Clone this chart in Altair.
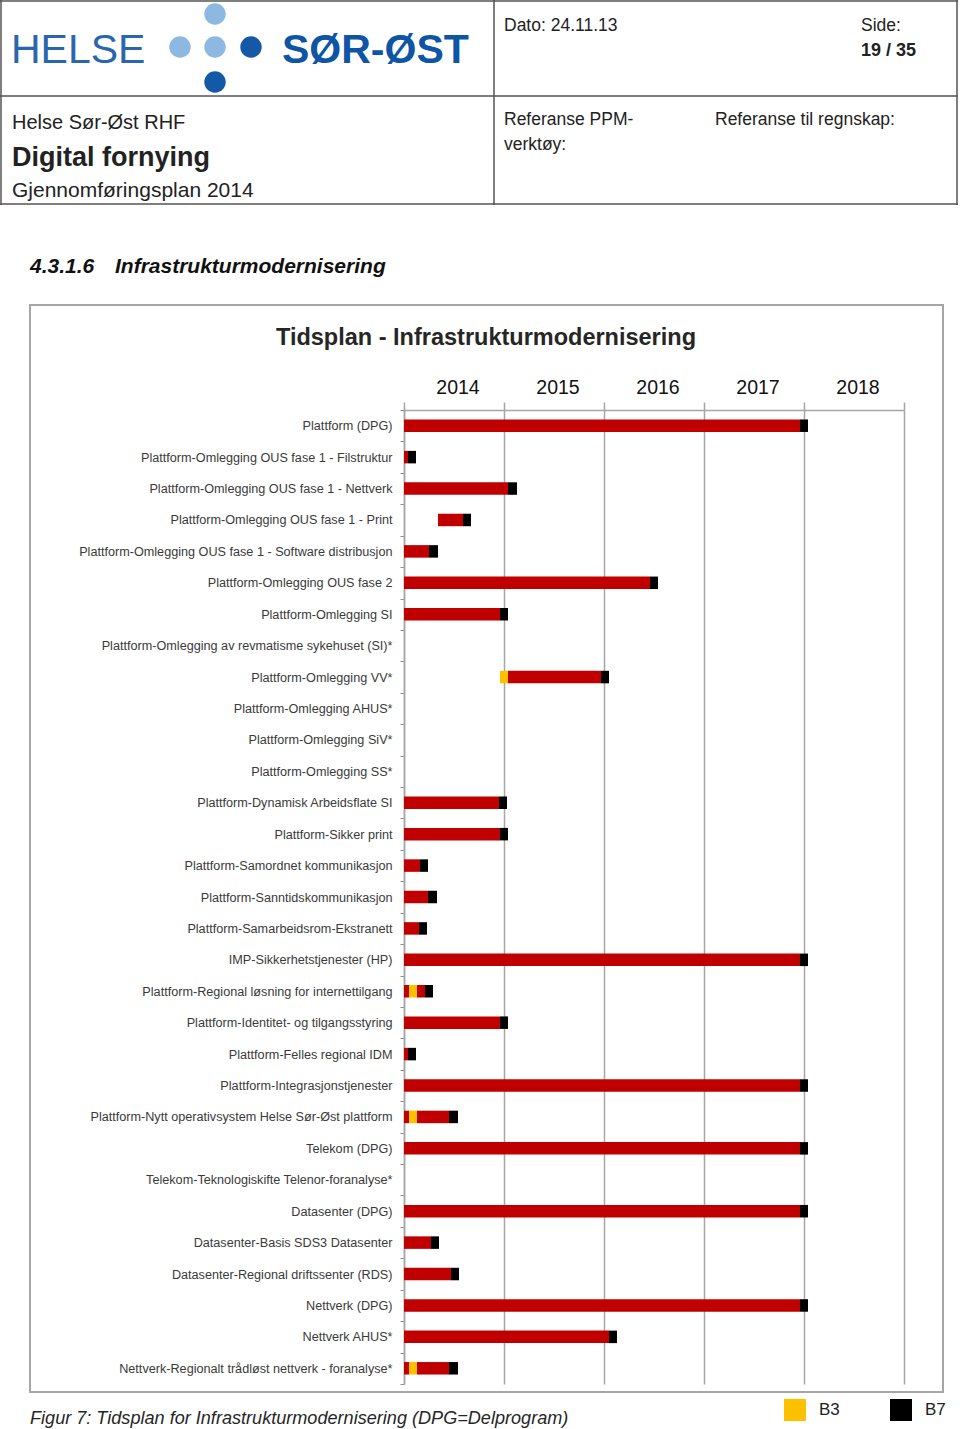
import altair as alt
import pandas as pd

# ---------------- data ----------------
tasks = [
    "Plattform (DPG)",
    "Plattform-Omlegging OUS fase 1 - Filstruktur",
    "Plattform-Omlegging OUS fase 1 - Nettverk",
    "Plattform-Omlegging OUS fase 1 - Print",
    "Plattform-Omlegging OUS fase 1 - Software distribusjon",
    "Plattform-Omlegging OUS fase 2",
    "Plattform-Omlegging SI",
    "Plattform-Omlegging av revmatisme sykehuset (SI)*",
    "Plattform-Omlegging VV*",
    "Plattform-Omlegging AHUS*",
    "Plattform-Omlegging SiV*",
    "Plattform-Omlegging SS*",
    "Plattform-Dynamisk Arbeidsflate SI",
    "Plattform-Sikker print",
    "Plattform-Samordnet kommunikasjon",
    "Plattform-Sanntidskommunikasjon",
    "Plattform-Samarbeidsrom-Ekstranett",
    "IMP-Sikkerhetstjenester (HP)",
    "Plattform-Regional løsning for internettilgang",
    "Plattform-Identitet- og tilgangsstyring",
    "Plattform-Felles regional IDM",
    "Plattform-Integrasjonstjenester",
    "Plattform-Nytt operativsystem Helse Sør-Øst plattform",
    "Telekom (DPG)",
    "Telekom-Teknologiskifte Telenor-foranalyse*",
    "Datasenter (DPG)",
    "Datasenter-Basis SDS3 Datasenter",
    "Datasenter-Regional driftssenter (RDS)",
    "Nettverk (DPG)",
    "Nettverk AHUS*",
    "Nettverk-Regionalt trådløst nettverk - foranalyse*",
]

# segments: row number (1-based), start, end (decimal year), phase
seg_row = [1, 1, 2, 2, 3, 3, 4, 4, 5, 5, 6, 6, 7, 7,
           9, 9, 9,
           13, 13, 14, 14, 15, 15, 16, 16, 17, 17, 18, 18,
           19, 19, 19, 19, 20, 20, 21, 21, 22, 22,
           23, 23, 23, 23, 24, 24, 26, 26, 27, 27, 28, 28,
           29, 29, 30, 30, 31, 31, 31, 31]
seg_start = [2014.00, 2017.96, 2014.00, 2014.04, 2014.00, 2015.04, 2014.34, 2014.59,
             2014.00, 2014.25, 2014.00, 2016.46, 2014.00, 2014.96,
             2014.96, 2015.04, 2015.97,
             2014.00, 2014.95, 2014.00, 2014.96, 2014.00, 2014.16, 2014.00, 2014.24,
             2014.00, 2014.15, 2014.00, 2017.96,
             2014.00, 2014.05, 2014.13, 2014.21, 2014.00, 2014.96, 2014.00, 2014.04,
             2014.00, 2017.96,
             2014.00, 2014.05, 2014.13, 2014.45, 2014.00, 2017.96, 2014.00, 2017.96,
             2014.00, 2014.27, 2014.00, 2014.47,
             2014.00, 2017.96, 2014.00, 2016.05, 2014.00, 2014.05, 2014.13, 2014.45]
seg_end = [2017.96, 2018.04, 2014.04, 2014.12, 2015.04, 2015.13, 2014.59, 2014.67,
           2014.25, 2014.34, 2016.46, 2016.54, 2014.96, 2015.04,
           2015.04, 2015.97, 2016.05,
           2014.95, 2015.03, 2014.96, 2015.04, 2014.16, 2014.24, 2014.24, 2014.33,
           2014.15, 2014.23, 2017.96, 2018.04,
           2014.05, 2014.13, 2014.21, 2014.29, 2014.96, 2015.04, 2014.04, 2014.12,
           2017.96, 2018.04,
           2014.05, 2014.13, 2014.45, 2014.54, 2017.96, 2018.04, 2017.96, 2018.04,
           2014.27, 2014.35, 2014.47, 2014.55,
           2017.96, 2018.04, 2016.05, 2016.13, 2014.05, 2014.13, 2014.45, 2014.54]
seg_phase = ["Plan", "B7", "Plan", "B7", "Plan", "B7", "Plan", "B7",
             "Plan", "B7", "Plan", "B7", "Plan", "B7",
             "B3", "Plan", "B7",
             "Plan", "B7", "Plan", "B7", "Plan", "B7", "Plan", "B7",
             "Plan", "B7", "Plan", "B7",
             "Plan", "B3", "Plan", "B7", "Plan", "B7", "Plan", "B7",
             "Plan", "B7",
             "Plan", "B3", "Plan", "B7", "Plan", "B7", "Plan", "B7",
             "Plan", "B7", "Plan", "B7",
             "Plan", "B7", "Plan", "B7", "Plan", "B3", "Plan", "B7"]

years = [2014, 2015, 2016, 2017, 2018]
year_edges = [2014, 2015, 2016, 2017, 2018, 2019]

phase_domain = ["Plan", "B3", "B7"]
phase_colors = ["#C00000", "#FFC000", "#000000"]

seg_df = pd.DataFrame({
    "task": [tasks[r - 1] for r in seg_row],
    "start": seg_start,
    "end": seg_end,
    "phase": seg_phase,
})
year_df = pd.DataFrame({"year": years})

# ---------------- layout ----------------
X0, Y0 = 404, 410          # plot area origin on the page
PW, PH = 500, 974          # plot area size
PAGE_W, PAGE_H = 960, 1429
FONT = "Liberation Sans"
one = alt.Data(values=[{}])


def txt(s, px, py, size, weight="normal", style="normal", color="#222222",
        align="left", baseline="alphabetic", font=FONT):
    return alt.Chart(one).mark_text(
        text=s, align=align, baseline=baseline, fontSize=size,
        fontWeight=weight, fontStyle=style, color=color, font=font
    ).encode(x=alt.value(px - X0), y=alt.value(py - Y0))


def hline(x1, x2, py, color="#555555", w=1.5):
    return alt.Chart(one).mark_rule(color=color, strokeWidth=w).encode(
        x=alt.value(x1 - X0), x2=alt.value(x2 - X0), y=alt.value(py - Y0))


def vline(px, y1, y2, color="#555555", w=1.5):
    return alt.Chart(one).mark_rule(color=color, strokeWidth=w).encode(
        x=alt.value(px - X0), y=alt.value(y1 - Y0), y2=alt.value(y2 - Y0))


def dot(px, py, color, size=460):
    return alt.Chart(one).mark_circle(color=color, size=size, opacity=1).encode(
        x=alt.value(px - X0), y=alt.value(py - Y0))


deco = [
    # header table
    hline(0, 958, 1), hline(0, 958, 96), hline(0, 958, 204),
    vline(1, 0, 205), vline(957, 0, 205), vline(494, 0, 205),
    # logo
    txt("HELSE", 11, 63, 41, color="#2A66AD"),
    dot(180, 47, "#8DB8E2"), dot(215, 47, "#8DB8E2"), dot(215, 14, "#8DB8E2"),
    dot(251, 47, "#1459A8"), dot(215, 82, "#1459A8"),
    txt("SØR-ØST", 282, 63, 41, weight="bold", color="#0E55A5"),
    txt("Dato: 24.11.13", 504, 31, 17.5),
    txt("Side:", 861, 31, 17.5),
    txt("19 / 35", 861, 56, 18, weight="bold"),
    txt("Helse Sør-Øst RHF", 12, 129, 20),
    txt("Digital fornying", 12, 166, 27, weight="bold"),
    txt("Gjennomføringsplan 2014", 12, 197, 21),
    txt("Referanse PPM-", 504, 125, 17.5),
    txt("verktøy:", 504, 150, 17.5),
    txt("Referanse til regnskap:", 715, 125, 17.5),
    # section heading
    txt("4.3.1.6", 30, 273, 21, weight="bold", style="italic", color="#111111"),
    txt("Infrastrukturmodernisering", 115, 273, 21, weight="bold", style="italic",
        color="#111111"),
    # chart frame
    alt.Chart(one).mark_rect(fillOpacity=0, stroke="#A6A6A6", strokeWidth=2).encode(
        x=alt.value(30 - X0), x2=alt.value(943 - X0),
        y=alt.value(305 - Y0), y2=alt.value(1392 - Y0)),
    # chart title
    txt("Tidsplan - Infrastrukturmodernisering", 486, 345, 23.5, weight="bold",
        align="center", color="#262626"),
    # caption
    txt("Figur 7: Tidsplan for Infrastrukturmodernisering (DPG=Delprogram)",
        30, 1424, 18.1, style="italic", color="#262626"),
]

x_scale = alt.Scale(domain=[2014, 2019], nice=False, zero=False)

bars = alt.Chart(seg_df).mark_bar(height=12.5).encode(
    x=alt.X("start:Q", scale=x_scale,
            axis=alt.Axis(orient="top", values=year_edges, labels=False, title=None,
                          grid=True, gridColor="#A6A6A6", gridWidth=1.5,
                          domainColor="#A6A6A6", domainWidth=1.5,
                          tickColor="#A6A6A6", tickSize=8, tickWidth=1.5)),
    x2="end:Q",
    y=alt.Y("task:N", sort=tasks, scale=alt.Scale(domain=tasks, paddingInner=0, paddingOuter=0),
            axis=alt.Axis(title=None, labelFont=FONT, labelFontSize=12.65,
                          labelColor="#3A3A3A", labelLimit=400, labelPadding=8,
                          tickBand="extent", tickSize=4, tickColor="#909090",
                          domainColor="#A6A6A6", domainWidth=1.5, grid=False)),
    color=alt.Color("phase:N",
                    scale=alt.Scale(domain=phase_domain, range=phase_colors),
                    legend=alt.Legend(values=["B3", "B7"], title=None, orient="none",
                                      legendX=380, legendY=989, direction="horizontal",
                                      symbolType="square", symbolSize=484,
                                      symbolStrokeWidth=0, labelFont=FONT,
                                      labelFontSize=17, labelColor="#222222",
                                      labelOffset=13, columnPadding=50)),
)

year_labels = alt.Chart(year_df).transform_calculate(
    mid="datum.year + 0.5"
).mark_text(fontSize=19.5, font=FONT, color="#111111", baseline="alphabetic",
            dx=4).encode(
    x=alt.X("mid:Q", scale=x_scale),
    y=alt.value(394 - Y0),
    text=alt.Text("year:Q", format="d"),
)

chart = alt.layer(*deco, bars, year_labels).properties(
    width=PW, height=PH,
    padding={"left": X0, "top": Y0, "right": PAGE_W - X0 - PW, "bottom": PAGE_H - Y0 - PH},
    autosize=alt.AutoSizeParams(type="none"),
    background="white",
).configure_view(stroke=None)

chart.save("out.html", embed_options={"renderer": "svg", "actions": False})
